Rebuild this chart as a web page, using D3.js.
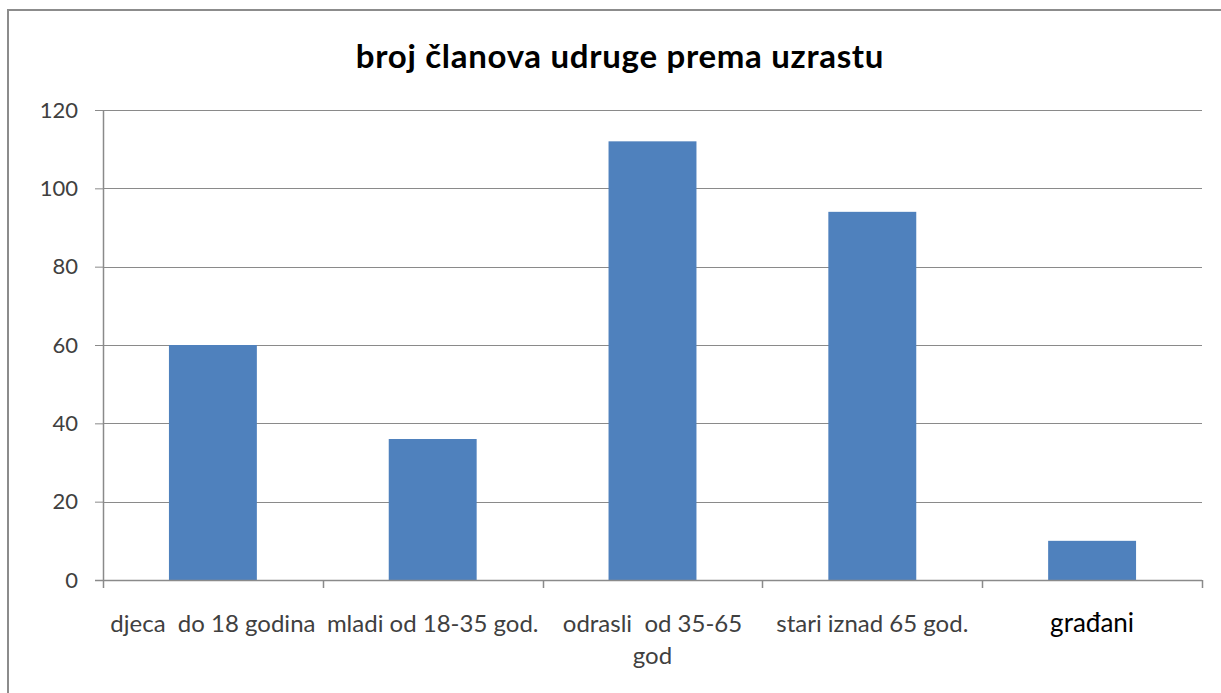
<!DOCTYPE html>
<html>
<head>
<meta charset="utf-8">
<script src="https://cdn.jsdelivr.net/npm/d3@7"></script>
<style>
  body { margin: 0; background: #fff; }
  svg text { font-family: Lato, "Open Sans", sans-serif; white-space: pre; }
</style>
</head>
<body>
<div id="chart-container"></div>
<script>
const title = "broj članova udruge prema uzrastu";
const categories = ["djeca  do 18 godina", "mladi od 18-35 god.", "odrasli  od 35-65 god", "stari iznad 65 god.", "građani"];
const values = [60, 36, 112, 94, 10];
const yTicks = [0, 20, 40, 60, 80, 100, 120];

const W = 1221, H = 693;
const margin = {top: 110, right: 19, bottom: 113, left: 103},
    width = W - margin.left - margin.right,
    height = H - margin.top - margin.bottom;

const svg = d3.select("#chart-container")
    .append("svg")
    .attr("width", W)
    .attr("height", H);

// outer chart border (runs off the right/bottom edge)
svg.append("rect")
    .attr("x", 8).attr("y", 10)
    .attr("width", W + 20).attr("height", H + 20)
    .attr("fill", "none")
    .attr("stroke", "#8c8c8c")
    .attr("stroke-width", 2);

svg.append("text")
    .attr("x", 620).attr("y", 68)
    .attr("text-anchor", "middle")
    .style("font-size", "33px")
    .style("font-weight", "bold")
    .style("letter-spacing", "0.7px")
    .style("fill", "#000")
    .text(title);

const g = svg.append("g")
    .attr("transform", `translate(${margin.left},${margin.top})`);

const x = d3.scaleBand()
    .domain(categories)
    .range([0, width])
    .paddingInner(0.6)
    .paddingOuter(0.3);

const y = d3.scaleLinear()
    .domain([0, 120])
    .range([height, 0]);

// gridlines
g.append("g")
    .selectAll("line")
    .data(yTicks.filter(d => d > 0))
    .enter()
    .append("line")
    .attr("x1", 0).attr("x2", width)
    .attr("y1", d => Math.round(y(d)) + 0.5)
    .attr("y2", d => Math.round(y(d)) + 0.5)
    .attr("stroke", "#8a8a8a")
    .attr("stroke-width", 1);

// bars
g.append("g")
    .selectAll("rect")
    .data(values)
    .enter()
    .append("rect")
    .attr("x", (d, i) => x(categories[i]))
    .attr("y", d => y(d))
    .attr("width", x.bandwidth())
    .attr("height", d => height - y(d))
    .attr("fill", "#4f81bd");

// y axis
const yAxis = g.append("g")
    .call(d3.axisLeft(y).tickValues(yTicks).tickSize(8).tickPadding(17));
yAxis.select(".domain").remove();
yAxis.selectAll(".tick line").attr("stroke", "#8a8a8a");
yAxis.selectAll(".tick text")
    .style("font-size", "22px")
    .style("fill", "#404040");
g.append("line")
    .attr("x1", 0.5).attr("x2", 0.5)
    .attr("y1", 0).attr("y2", height + 8)
    .attr("stroke", "#8a8a8a")
    .attr("stroke-width", 1.5);

// x axis line + boundary ticks
const step = width / categories.length;
g.append("line")
    .attr("x1", -8).attr("x2", width)
    .attr("y1", height + 0.5).attr("y2", height + 0.5)
    .attr("stroke", "#8a8a8a")
    .attr("stroke-width", 1.5);
g.append("g")
    .selectAll("line")
    .data(d3.range(1, categories.length + 1))
    .enter()
    .append("line")
    .attr("x1", i => Math.round(i * step) + 0.5)
    .attr("x2", i => Math.round(i * step) + 0.5)
    .attr("y1", height).attr("y2", height + 8)
    .attr("stroke", "#8a8a8a")
    .attr("stroke-width", 1.5);

// category labels, wrapped like Excel when wider than a category
const lastIdx = categories.length - 1;
const labels = g.append("g")
    .selectAll("text")
    .data(categories)
    .enter()
    .append("text")
    .attr("x", d => x(d) + x.bandwidth() / 2)
    .attr("y", height + 52)
    .attr("text-anchor", "middle")
    .style("font-size", (d, i) => i === lastIdx ? "26px" : "24px")
    .style("fill", (d, i) => i === lastIdx ? "#000" : "#404040")
    .text(d => d);

labels.each(function(d) {
    const t = d3.select(this);
    if (this.getComputedTextLength() <= step + 4) return;
    const words = d.split(" ");
    const last = words.pop();
    const cx = t.attr("x");
    t.text(null);
    t.append("tspan").attr("x", cx).text(words.join(" "));
    t.append("tspan").attr("x", cx).attr("dy", 32).text(last);
});
</script>
</body>
</html>
